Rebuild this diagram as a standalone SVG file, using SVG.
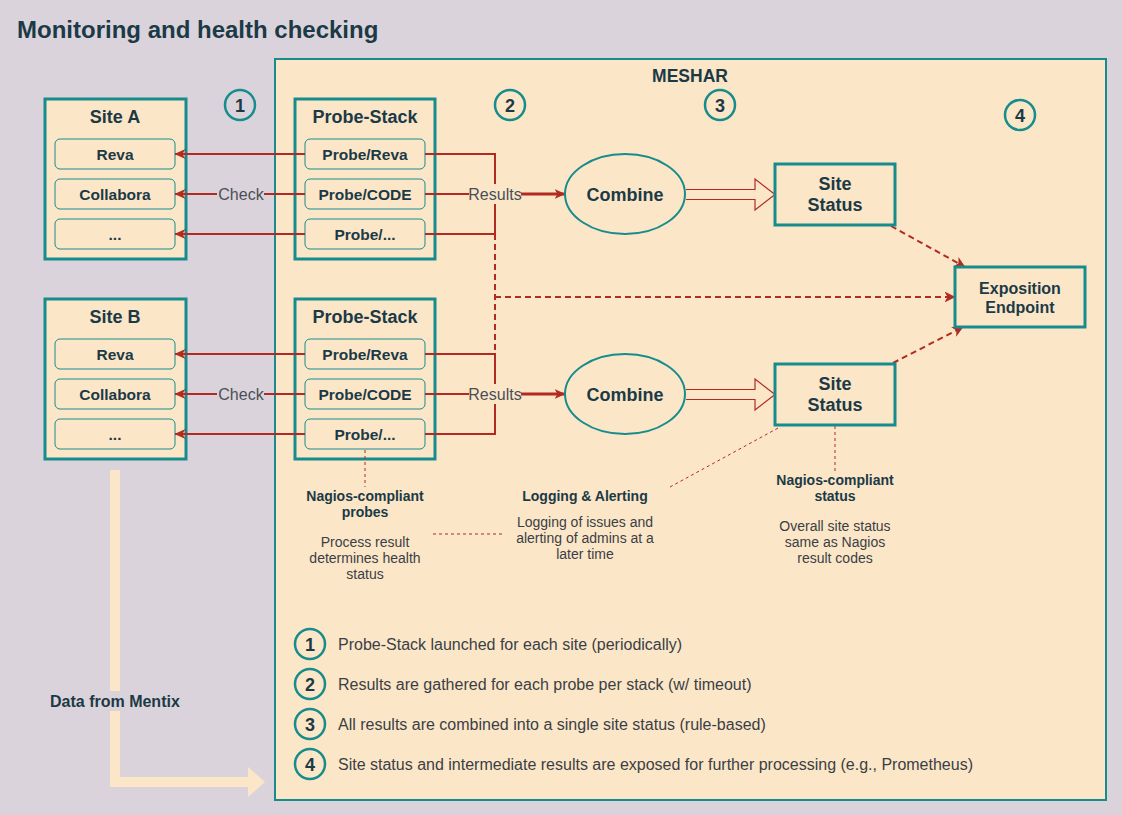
<svg xmlns="http://www.w3.org/2000/svg" width="1122" height="815" viewBox="0 0 1122 815">
<defs>
<style>
.bg{fill:#DBD3DB}
.peach{fill:#FCE6C8}
.frame{fill:#FCE6C8;stroke:#168C8C;stroke-width:3}
.item{fill:#FCE6C8;stroke:#168C8C;stroke-width:1}
.t{font-family:"Liberation Sans",Arial,sans-serif;fill:#1B3A46}
.b{font-weight:bold}
.lab{font-family:"Liberation Sans",Arial,sans-serif;fill:#4A4F57;font-size:16px}
.leg{font-family:"Liberation Sans",Arial,sans-serif;fill:#3A3F45;font-size:16px}
.desc{font-family:"Liberation Sans",Arial,sans-serif;fill:#3A3F45;font-size:14px}
.num{fill:none;stroke:#168C8C;stroke-width:2.5}
.red{fill:none;stroke:#B22B22;stroke-width:2}
.dash{fill:none;stroke:#B22B22;stroke-width:2;stroke-dasharray:6 4}
.dot{fill:none;stroke:#B22B22;stroke-width:1;stroke-dasharray:3 3}
</style>
<marker id="ah" markerWidth="11" markerHeight="10" refX="10.5" refY="5" orient="auto" markerUnits="userSpaceOnUse">
<path d="M0,0 L11,5 L0,10 L3,5 z" fill="#B22B22"/>
</marker>
<marker id="ahd" markerWidth="11" markerHeight="11" refX="10.5" refY="5.5" orient="auto" markerUnits="userSpaceOnUse">
<path d="M0,0 L11,5.5 L0,11 L3,5.5 z" fill="#B22B22"/>
</marker>
</defs>

<rect class="bg" x="0" y="0" width="1122" height="815"/>
<text class="t b" x="17" y="38" font-size="24">Monitoring and health checking</text>

<g id="meshar">
<rect x="275" y="59" width="831" height="741" fill="#FCE6C8" stroke="#168C8C" stroke-width="2"/>
<text class="t b" x="690" y="82" font-size="17.5" text-anchor="middle">MESHAR</text>
</g>

<g id="mentix">
<path d="M110,470 V787 H248 V797 L265,782 L248,767 V777 H120 V470 Z" fill="#FCE6C8"/>
<rect x="48" y="691" width="140" height="20" class="bg"/>
<text class="t b" x="50" y="707" font-size="16">Data from Mentix</text>
</g>

<g id="site-a">
<rect class="frame" x="45" y="99" width="141" height="160"/>
<text class="t b" x="115" y="122.5" font-size="18" text-anchor="middle">Site A</text>
<rect class="item" x="55" y="139" width="120" height="30" rx="5"/>
<text class="t b" x="115" y="159.5" font-size="15.5" text-anchor="middle">Reva</text>
<rect class="item" x="55" y="179" width="120" height="30" rx="5"/>
<text class="t b" x="115" y="199.5" font-size="15.5" text-anchor="middle">Collabora</text>
<rect class="item" x="55" y="219" width="120" height="30" rx="5"/>
<text class="t b" x="115" y="239.5" font-size="15.5" text-anchor="middle">...</text>
</g>

<g id="site-b">
<rect class="frame" x="45" y="299" width="141" height="160"/>
<text class="t b" x="115" y="322.5" font-size="18" text-anchor="middle">Site B</text>
<rect class="item" x="55" y="339" width="120" height="30" rx="5"/>
<text class="t b" x="115" y="359.5" font-size="15.5" text-anchor="middle">Reva</text>
<rect class="item" x="55" y="379" width="120" height="30" rx="5"/>
<text class="t b" x="115" y="399.5" font-size="15.5" text-anchor="middle">Collabora</text>
<rect class="item" x="55" y="419" width="120" height="30" rx="5"/>
<text class="t b" x="115" y="439.5" font-size="15.5" text-anchor="middle">...</text>
</g>

<g id="probe-stack-a">
<rect class="frame" x="295" y="99" width="140" height="160"/>
<text class="t b" x="365" y="122.5" font-size="18" text-anchor="middle">Probe-Stack</text>
<rect class="item" x="305" y="139" width="120" height="30" rx="5"/>
<text class="t b" x="365" y="159.5" font-size="15.5" text-anchor="middle">Probe/Reva</text>
<rect class="item" x="305" y="179" width="120" height="30" rx="5"/>
<text class="t b" x="365" y="199.5" font-size="15.5" text-anchor="middle">Probe/CODE</text>
<rect class="item" x="305" y="219" width="120" height="30" rx="5"/>
<text class="t b" x="365" y="239.5" font-size="15.5" text-anchor="middle">Probe/...</text>
</g>

<g id="probe-stack-b">
<rect class="frame" x="295" y="299" width="140" height="160"/>
<text class="t b" x="365" y="322.5" font-size="18" text-anchor="middle">Probe-Stack</text>
<rect class="item" x="305" y="339" width="120" height="30" rx="5"/>
<text class="t b" x="365" y="359.5" font-size="15.5" text-anchor="middle">Probe/Reva</text>
<rect class="item" x="305" y="379" width="120" height="30" rx="5"/>
<text class="t b" x="365" y="399.5" font-size="15.5" text-anchor="middle">Probe/CODE</text>
<rect class="item" x="305" y="419" width="120" height="30" rx="5"/>
<text class="t b" x="365" y="439.5" font-size="15.5" text-anchor="middle">Probe/...</text>
</g>

<g id="connectors">
<!-- checks A -->
<line class="red" x1="305" y1="154" x2="175" y2="154" marker-end="url(#ah)"/>
<line class="red" x1="305" y1="194" x2="264" y2="194"/>
<line class="red" x1="217" y1="194" x2="175" y2="194" marker-end="url(#ah)"/>
<line class="red" x1="305" y1="234" x2="175" y2="234" marker-end="url(#ah)"/>
<text class="lab" x="241" y="199.5" text-anchor="middle">Check</text>
<!-- checks B -->
<line class="red" x1="305" y1="354" x2="175" y2="354" marker-end="url(#ah)"/>
<line class="red" x1="305" y1="394" x2="264" y2="394"/>
<line class="red" x1="217" y1="394" x2="175" y2="394" marker-end="url(#ah)"/>
<line class="red" x1="305" y1="434" x2="175" y2="434" marker-end="url(#ah)"/>
<text class="lab" x="241" y="399.5" text-anchor="middle">Check</text>

<!-- dashed trunk -->
<line class="dash" x1="495" y1="234" x2="495" y2="354"/>
<line class="dash" x1="495" y1="297" x2="955" y2="297" marker-end="url(#ahd)"/>
<line class="dash" x1="891" y1="226" x2="965" y2="267" marker-end="url(#ahd)"/>
<line class="dash" x1="893" y1="363" x2="963" y2="327" marker-end="url(#ahd)"/>

<!-- results A -->
<path class="red" d="M425,154 H495 V234 H425"/>
<line class="red" x1="425" y1="194" x2="469" y2="194"/>
<line x1="521" y1="194" x2="565" y2="194" stroke="#B22B22" stroke-width="3" marker-end="url(#ah)"/>
<rect class="peach" x="469" y="184" width="52" height="20"/>
<text class="lab" x="495" y="199.5" text-anchor="middle">Results</text>
<!-- results B -->
<path class="red" d="M425,354 H495 V434 H425"/>
<line class="red" x1="425" y1="394" x2="469" y2="394"/>
<line x1="521" y1="394" x2="565" y2="394" stroke="#B22B22" stroke-width="3" marker-end="url(#ah)"/>
<rect class="peach" x="469" y="384" width="52" height="20"/>
<text class="lab" x="495" y="399.5" text-anchor="middle">Results</text>

<!-- block arrows -->
<path d="M686,189.5 H755 V179 L775,194.5 L755,210 V199.5 H686" fill="#FCE6C8" stroke="#B22B22" stroke-width="1.2"/>
<path d="M686,389.5 H755 V379 L775,394.5 L755,410 V399.5 H686" fill="#FCE6C8" stroke="#B22B22" stroke-width="1.2"/>

<!-- annotations -->
<line class="dot" x1="365" y1="450" x2="365" y2="487"/>
<line class="dot" x1="433" y1="534" x2="502" y2="534"/>
<line class="dot" x1="670" y1="487" x2="780" y2="427"/>
<line class="dot" x1="835" y1="426" x2="835" y2="472"/>
</g>

<g id="combine-a">
<ellipse cx="625" cy="194" rx="60" ry="40" fill="#FCE6C8" stroke="#168C8C" stroke-width="2"/>
<text class="t b" x="625" y="200.5" font-size="18" text-anchor="middle">Combine</text>
</g>
<g id="combine-b">
<ellipse cx="625" cy="394" rx="60" ry="40" fill="#FCE6C8" stroke="#168C8C" stroke-width="2"/>
<text class="t b" x="625" y="400.5" font-size="18" text-anchor="middle">Combine</text>
</g>

<g id="site-status-a">
<rect class="frame" x="775" y="164" width="120" height="61"/>
<text class="t b" x="835" y="190" font-size="18" text-anchor="middle">Site</text>
<text class="t b" x="835" y="211" font-size="18" text-anchor="middle">Status</text>
</g>
<g id="site-status-b">
<rect class="frame" x="775" y="364" width="120" height="61"/>
<text class="t b" x="835" y="390" font-size="18" text-anchor="middle">Site</text>
<text class="t b" x="835" y="411" font-size="18" text-anchor="middle">Status</text>
</g>

<g id="exposition-endpoint">
<rect class="frame" x="955" y="267" width="130" height="60"/>
<text class="t b" x="1020" y="293.5" font-size="16" text-anchor="middle">Exposition</text>
<text class="t b" x="1020" y="312.5" font-size="16" text-anchor="middle">Endpoint</text>
</g>

<g id="step-markers">
<circle class="num" cx="240" cy="105" r="15"/>
<text class="t b" x="240" y="111.5" font-size="18" text-anchor="middle">1</text>
<circle class="num" cx="510" cy="105" r="15"/>
<text class="t b" x="510" y="111.5" font-size="18" text-anchor="middle">2</text>
<circle class="num" cx="720" cy="105" r="15"/>
<text class="t b" x="720" y="111.5" font-size="18" text-anchor="middle">3</text>
<circle class="num" cx="1020" cy="115" r="15"/>
<text class="t b" x="1020" y="121.5" font-size="18" text-anchor="middle">4</text>
</g>

<g id="note-probes">
<text class="t b" x="365" y="501" font-size="14" text-anchor="middle">Nagios-compliant</text>
<text class="t b" x="365" y="517" font-size="14" text-anchor="middle">probes</text>
<text class="desc" x="365" y="547" text-anchor="middle">Process result</text>
<text class="desc" x="365" y="563" text-anchor="middle">determines health</text>
<text class="desc" x="365" y="579" text-anchor="middle">status</text>
</g>
<g id="note-logging">
<text class="t b" x="585" y="501" font-size="14" text-anchor="middle">Logging &amp; Alerting</text>
<text class="desc" x="585" y="527" text-anchor="middle">Logging of issues and</text>
<text class="desc" x="585" y="543" text-anchor="middle">alerting of admins at a</text>
<text class="desc" x="585" y="559" text-anchor="middle">later time</text>
</g>
<g id="note-status">
<text class="t b" x="835" y="485" font-size="14" text-anchor="middle">Nagios-compliant</text>
<text class="t b" x="835" y="501" font-size="14" text-anchor="middle">status</text>
<text class="desc" x="835" y="531" text-anchor="middle">Overall site status</text>
<text class="desc" x="835" y="547" text-anchor="middle">same as Nagios</text>
<text class="desc" x="835" y="563" text-anchor="middle">result codes</text>
</g>

<g id="legend">
<circle class="num" cx="310" cy="644" r="15"/>
<text class="t b" x="310" y="650.5" font-size="18" text-anchor="middle">1</text>
<text class="leg" x="338" y="650">Probe-Stack launched for each site (periodically)</text>
<circle class="num" cx="310" cy="684" r="15"/>
<text class="t b" x="310" y="690.5" font-size="18" text-anchor="middle">2</text>
<text class="leg" x="338" y="690">Results are gathered for each probe per stack (w/ timeout)</text>
<circle class="num" cx="310" cy="724" r="15"/>
<text class="t b" x="310" y="730.5" font-size="18" text-anchor="middle">3</text>
<text class="leg" x="338" y="730">All results are combined into a single site status (rule-based)</text>
<circle class="num" cx="310" cy="764" r="15"/>
<text class="t b" x="310" y="770.5" font-size="18" text-anchor="middle">4</text>
<text class="leg" x="338" y="770">Site status and intermediate results are exposed for further processing (e.g., Prometheus)</text>
</g>
</svg>
